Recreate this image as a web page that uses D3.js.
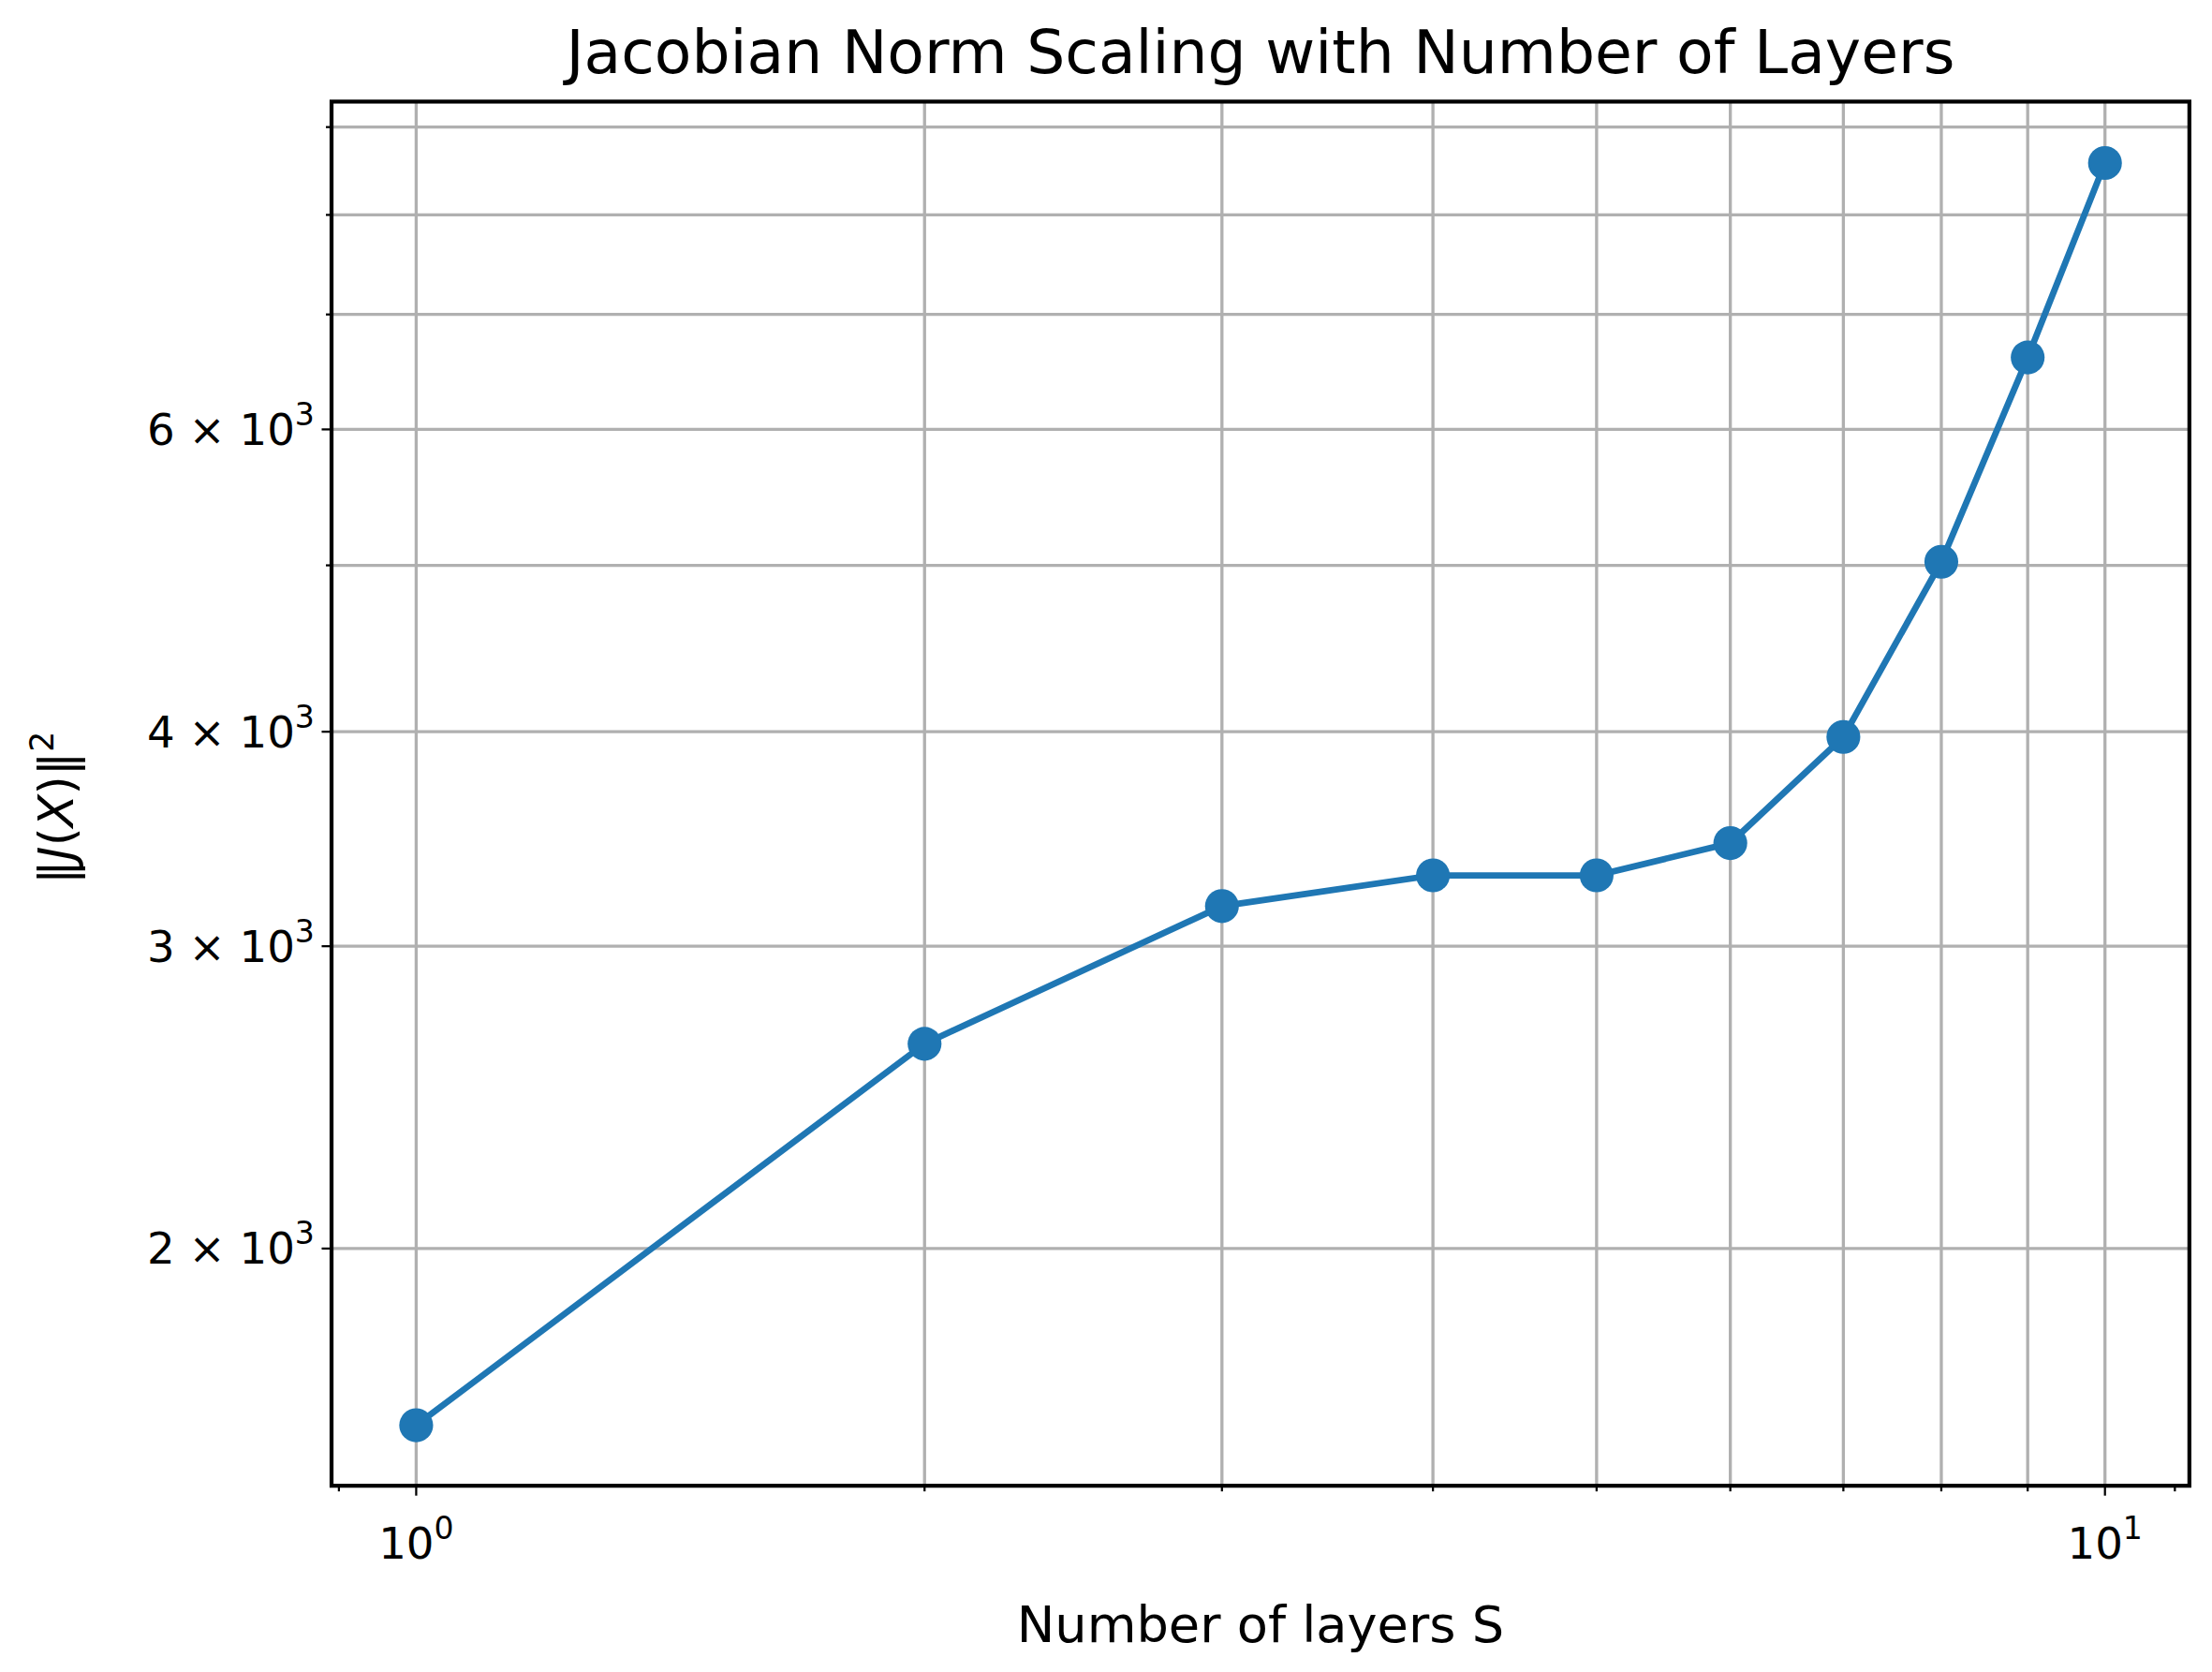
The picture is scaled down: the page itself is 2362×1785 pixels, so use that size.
<!DOCTYPE html>
<html><head><meta charset="utf-8">
<script src="https://cdn.jsdelivr.net/npm/d3@7"></script>
<style>body{margin:0;background:#fff}</style>
</head><body>
<script>
// data
const layers = [1, 2, 3, 4, 5, 6, 7, 8, 9, 10];
const jacNorm = [1578, 2632, 3166, 3299, 3299, 3445, 3972, 5024, 6608, 8577];
const yMajor = [2000, 3000, 4000, 6000];
const yMinor = [5000, 7000, 8000, 9000];
const xTicks = [1, 2, 3, 4, 5, 6, 7, 8, 9, 10];

const W = 1568, H = 1185;
const m = {l: 235, r: 1552, t: 72, b: 1053};
const svg = d3.select('body').append('svg')
  .attr('width', 2362).attr('height', 1785)
  .attr('viewBox', `0 0 ${W} ${H}`)
  .style('font-family', 'DejaVu Sans');

const x = d3.scaleLog().domain([0.891, 11.22]).range([m.l, m.r]);
const y = d3.scaleLog().domain([1455, 9313]).range([m.b, m.t]);

const grid = svg.append('g').attr('stroke', '#b0b0b0').attr('stroke-width', 2.2);
xTicks.forEach(v => grid.append('line').attr('x1', x(v)).attr('x2', x(v)).attr('y1', m.t).attr('y2', m.b));
yMajor.concat(yMinor).forEach(v => grid.append('line').attr('y1', y(v)).attr('y2', y(v)).attr('x1', m.l).attr('x2', m.r));

// ticks
const tk = svg.append('g').attr('stroke', '#000').attr('stroke-width', 1.5);
xTicks.forEach(v => {
  const len = (v === 1 || v === 10) ? 7 : 4;
  tk.append('line').attr('x1', x(v)).attr('x2', x(v)).attr('y1', m.b).attr('y2', m.b + len);
});
[0.9, 11].forEach(v => tk.append('line').attr('x1', x(v)).attr('x2', x(v)).attr('y1', m.b).attr('y2', m.b + 4));
yMajor.forEach(v => tk.append('line').attr('y1', y(v)).attr('y2', y(v)).attr('x1', m.l - 7).attr('x2', m.l));
yMinor.forEach(v => tk.append('line').attr('y1', y(v)).attr('y2', y(v)).attr('x1', m.l - 4).attr('x2', m.l));

// x tick labels
[[1, '0'], [10, '1']].forEach(([v, e]) => {
  const t = svg.append('text').attr('x', x(v)).attr('y', m.b + 52).attr('text-anchor', 'middle').attr('font-size', 31);
  t.append('tspan').text('10');
  t.append('tspan').attr('dy', -14).attr('font-size', 22).text(e);
});
// y tick labels
yMajor.forEach(v => {
  const t = svg.append('text').attr('x', m.l - 12).attr('y', y(v) + 11).attr('text-anchor', 'end').attr('font-size', 31);
  t.append('tspan').text((v / 1000) + ' \u00d7 10');
  t.append('tspan').attr('dy', -14).attr('font-size', 22).text('3');
});

// line and points
const line = d3.line().x((d, i) => x(layers[i])).y(d => y(d));
svg.append('path').datum(jacNorm).attr('d', line).attr('fill', 'none')
  .attr('stroke', '#1f77b4').attr('stroke-width', 4.5);
svg.selectAll('.pt').data(jacNorm).join('circle').attr('class', 'pt')
  .attr('cx', (d, i) => x(layers[i])).attr('cy', d => y(d)).attr('r', 12).attr('fill', '#1f77b4');

// frame
svg.append('rect').attr('x', m.l).attr('y', m.t).attr('width', m.r - m.l).attr('height', m.b - m.t)
  .attr('fill', 'none').attr('stroke', '#000').attr('stroke-width', 2.8);

svg.append('text').attr('x', (m.l + m.r) / 2).attr('y', 52).attr('text-anchor', 'middle')
  .attr('font-size', 43).text('Jacobian Norm Scaling with Number of Layers');
svg.append('text').attr('x', (m.l + m.r) / 2).attr('y', 1164).attr('text-anchor', 'middle')
  .attr('font-size', 36).text('Number of layers S');
const yl = svg.append('text').attr('transform', `translate(52,${(m.t + m.b) / 2 + 10}) rotate(-90)`)
  .attr('text-anchor', 'middle').attr('font-size', 34);
yl.append('tspan').text('\u2016');
yl.append('tspan').attr('font-style', 'italic').text('J');
yl.append('tspan').text('(');
yl.append('tspan').attr('font-style', 'italic').text('X');
yl.append('tspan').text(')\u2016');
yl.append('tspan').attr('dy', -14).attr('font-size', 23).text('2');
</script>
</body></html>
